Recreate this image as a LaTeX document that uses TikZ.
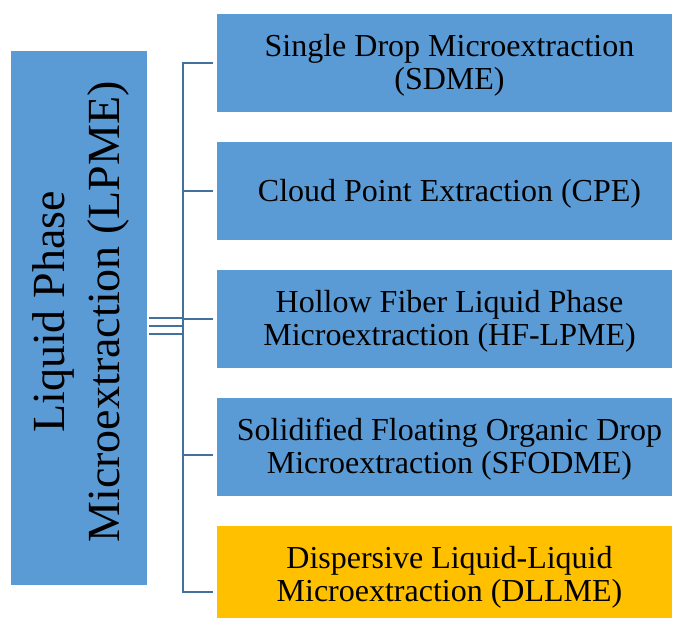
\documentclass[tikz,border=0pt]{standalone}
\usepackage{fontspec}
\setmainfont{Liberation Serif}
\usetikzlibrary{positioning}
\definecolor{boxblue}{HTML}{5B9BD5}
\definecolor{boxgold}{HTML}{FFC000}
\definecolor{linkblue}{HTML}{41719C}
% box lines, centred and nudged a bit right and down
\newcommand{\mtext}[1]{\raisebox{-2.5pt}[\height][\depth]{%
  \begin{tabular}{@{\hspace{7.5pt}}c@{}}#1\end{tabular}}}

\begin{document}
\begin{tikzpicture}[x=0.75pt,y=-0.75pt,line join=miter,
  method/.style={fill=boxblue,minimum width=341.25pt,minimum height=73.9pt,
    inner sep=0pt,font=\fontsize{24}{24.75}\selectfont},
  link/.style={draw=linkblue,line width=1.6pt},
  node distance=21.75pt]
\useasboundingbox (0,0) rectangle (673,617);
% main technique, turned on its side
\node[fill=boxblue,rotate=90,minimum width=400.5pt,minimum height=102pt,
  inner sep=0pt,font=\fontsize{34.5}{41.25}\selectfont]
  (lpme) at (79,318) {\raisebox{-1.5pt}[\height][\depth]{%
    \begin{tabular}{@{\hspace{9pt}}c@{}}Liquid Phase\\Microextraction (LPME)\end{tabular}}};
% the five methods
\node[method] (sdme) at (444.5,63) {\mtext{Single Drop Microextraction\\(SDME)}};
\node[method,below=of sdme] (cpe) {\mtext{Cloud Point Extraction (CPE)}};
\node[method,below=of cpe] (hflpme) {\mtext{Hollow Fiber Liquid Phase\\Microextraction (HF-LPME)}};
\node[method,below=of hflpme] (sfodme) {\mtext{Solidified Floating Organic Drop\\Microextraction (SFODME)}};
\node[method,fill=boxgold,below=of sfodme] (dllme) {\mtext{Dispersive Liquid-Liquid\\Microextraction (DLLME)}};
% bracket: spine with its top and bottom arms
\draw[link] ([xshift=-3pt]sdme.west) -- ++(-22.5pt,0)
  |- ([xshift=-3pt,yshift=-12.75pt]dllme.west);
\draw[link] ([xshift=-25.5pt]cpe.west) -- ([xshift=-3pt]cpe.west);
\draw[link] ([xshift=-25.5pt]hflpme.west) -- ([xshift=-3pt]hflpme.west);
\draw[link] ([xshift=-25.5pt,yshift=-6pt]sfodme.west) -- ([xshift=-3pt,yshift=-6pt]sfodme.west);
% triple stub from the rotated box (its south side faces right)
\foreach \dy in {0,6,12}
  \draw[link] ([xshift=1.5pt,yshift=-\dy pt]lpme.south) -- ++(25.5pt,0);
\end{tikzpicture}
\end{document}
